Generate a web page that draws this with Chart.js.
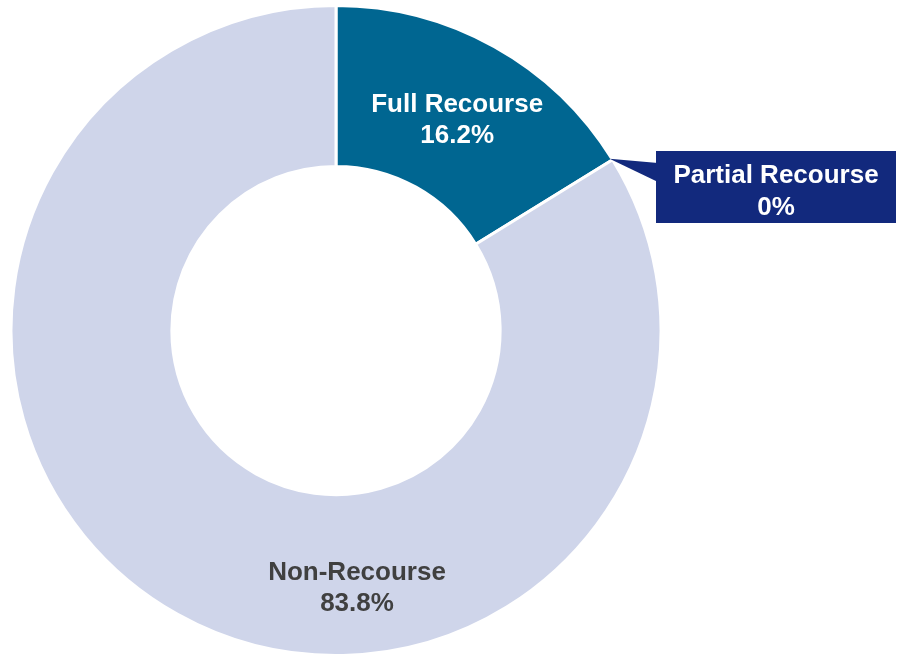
<!DOCTYPE html>
<html>
<head>
<meta charset="utf-8">
<script src="https://cdn.jsdelivr.net/npm/chart.js@4/dist/chart.umd.min.js"></script>
<style>
  body { margin: 0; background: #fff; }
  canvas { display: block; }
</style>
</head>
<body>
<canvas id="recourseChart" width="897" height="657"></canvas>
<script>
const categories = ["Full Recourse", "Partial Recourse", "Non-Recourse"];
const shares = [16.2, 0, 83.8];
const shareLabels = ["16.2%", "0%", "83.8%"];
const sliceColors = ["#006691", "#12297d", "#cfd5ea"];

// labels drawn on top of the ring (and the callout box for the empty slice)
const sliceLabels = {
  id: "sliceLabels",
  afterDatasetsDraw(chart, args, opts) {
    const ctx = chart.ctx;
    const arcs = chart.getDatasetMeta(0).data;
    ctx.save();
    ctx.font = opts.font;
    ctx.textAlign = "center";
    ctx.textBaseline = "middle";

    arcs.forEach((arc, i) => {
      const place = opts.places[i];
      const lines = [categories[i], shareLabels[i]];

      if (place.callout) {
        // pointer from the slice edge to the box
        const b = place.callout;
        const tipX = arc.x + arc.outerRadius * Math.cos(arc.startAngle);
        const tipY = arc.y + arc.outerRadius * Math.sin(arc.startAngle);
        ctx.fillStyle = sliceColors[i];
        ctx.beginPath();
        ctx.moveTo(tipX - 3, tipY - 1);
        ctx.lineTo(b.x + 2, b.y + 12);
        ctx.lineTo(b.x + 2, b.y + 31);
        ctx.closePath();
        ctx.fill();
        ctx.fillRect(b.x, b.y, b.w, b.h);
        ctx.fillStyle = place.color;
        ctx.fillText(lines[0], b.x + b.w / 2, b.y + 25);
        ctx.fillText(lines[1], b.x + b.w / 2, b.y + 57);
        return;
      }

      let x, y;
      if (place.offset) {
        x = arc.x + place.offset[0];
        y = arc.y + place.offset[1];
      } else {
        const p = arc.tooltipPosition();
        x = p.x + 2;
        y = p.y + 3;
      }
      ctx.fillStyle = place.color;
      ctx.fillText(lines[0], x, y - 15);
      ctx.fillText(lines[1], x, y + 16);
    });
    ctx.restore();
  }
};

new Chart(document.getElementById("recourseChart"), {
  type: "doughnut",
  data: {
    labels: categories,
    datasets: [{
      data: shares,
      backgroundColor: sliceColors,
      borderColor: "#ffffff",
      borderWidth: 3
    }]
  },
  options: {
    responsive: false,
    animation: false,
    cutout: "50.5%",
    layout: { padding: { left: 9, top: 4, right: 234, bottom: 0 } },
    plugins: {
      legend: { display: false },
      tooltip: { enabled: false },
      sliceLabels: {
        font: 'bold 26px "Liberation Sans", Arial, sans-serif',
        places: [
          { color: "#ffffff" },
          { color: "#ffffff", callout: { x: 656, y: 151, w: 240, h: 72 } },
          { color: "#404040", offset: [21, 257] }
        ]
      }
    }
  },
  plugins: [sliceLabels]
});
</script>
</body>
</html>
